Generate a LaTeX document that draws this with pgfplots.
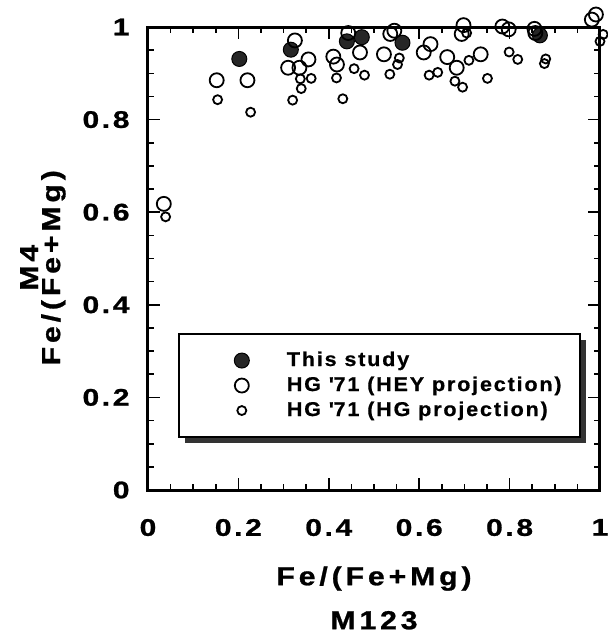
\documentclass[border=0pt]{standalone}
\usepackage{fontspec}
\setmainfont{Liberation Sans}
\newfontfamily\tickfam{Liberation Sans}[FakeStretch=1.25,LetterSpace=11,FakeBold=1]
\newfontfamily\labfam{Liberation Sans}[FakeStretch=1.16,LetterSpace=15,FakeBold=1]
\newfontfamily\legfam{Liberation Sans}[FakeStretch=1.08,LetterSpace=9,FakeBold=0.6]
\usepackage{pgfplots}
\pgfplotsset{compat=1.18}
\usetikzlibrary{shadows}

\newcommand\tickf{\tickfam\bfseries\fontsize{12pt}{14pt}\selectfont}
\newcommand\labf{\labfam\bfseries\fontsize{13pt}{15pt}\selectfont}
\newcommand\legf{\legfam\bfseries\fontsize{10pt}{12pt}\selectfont}

\begin{document}
\begin{tikzpicture}
\begin{axis}[
    scale only axis,
    width=226pt, height=231.5pt,
    xmin=0, xmax=1, ymin=0, ymax=1,
    clip=false,
    axis line style={line width=1.5pt},
    tick align=inside,
    major tick length=6pt, minor tick length=3pt,
    tick style={line width=0.8pt, black},
    xtick={0,0.2,0.4,0.6,0.8,1},
    ytick={0,0.2,0.4,0.6,0.8,1},
    xticklabels={0,0.2,0.4,0.6,0.8,1},
    yticklabels={0,0.2,0.4,0.6,0.8,1},
    minor x tick num=3, minor y tick num=3,
    xticklabel style={font=\tickf, yshift=-11pt},
    yticklabel style={font=\tickf, xshift=-5.7pt},
    xlabel={Fe/(Fe+Mg)\\[7pt]M123},
    ylabel={M4\\[-4pt]Fe/(Fe+Mg)},
    xlabel style={font=\labf, align=center, inner sep=0pt,
        at={(axis description cs:0.5,0)}, anchor=north, yshift=-38pt},
    ylabel style={font=\labf, align=center, inner sep=0pt,
        at={(axis description cs:0,0.48)}, anchor=south, yshift=41pt},
    legend cell align=left,
    legend style={at={(rel axis cs:0.066,0.339)}, anchor=north west,
        draw=black, line width=1pt, fill=white,
        drop shadow={shadow xshift=3pt, shadow yshift=-3pt, fill=black!80, opacity=1},
        inner xsep=7pt, inner ysep=7pt, row sep=0pt,
        font=\legf,
        nodes={text height=8pt, text depth=2.5pt, inner ysep=1pt, inner xsep=2pt}},
    legend image code/.code={\path (-24pt,0pt) (20pt,0pt);
        \draw[#1] plot coordinates {(0pt,0pt)};},
]
% This study
\addplot[only marks, mark=*, mark size=3.75pt, draw=black, fill=black!85, line width=0.5pt] coordinates {
    (0.202,0.931) (0.316,0.951) (0.440,0.969) (0.473,0.978) (0.563,0.966) (0.867,0.982)
};
% HG '71, HEY projection
\addplot[only marks, mark=o, mark size=3.5pt, black, mark options={line width=0.9pt, fill=none}] coordinates {
    (0.035,0.618) (0.152,0.885) (0.220,0.885) (0.325,0.971) (0.310,0.912)
    (0.335,0.912) (0.355,0.930) (0.410,0.936) (0.418,0.919) (0.443,0.987)
    (0.469,0.945) (0.522,0.941) (0.536,0.985) (0.545,0.992) (0.610,0.945)
    (0.625,0.963) (0.662,0.935) (0.683,0.912) (0.736,0.941) (0.698,1.004)
    (0.694,0.985) (0.784,1.001) (0.798,0.995) (0.855,0.996) (0.857,0.987)
    (0.991,1.027) (0.982,1.016)
};
% HG '71, HG projection
\addplot[only marks, mark=o, mark size=2.25pt, black, mark options={line width=0.9pt, fill=none}] coordinates {
    (0.039,0.590) (0.154,0.843) (0.227,0.816) (0.320,0.842) (0.337,0.888)
    (0.361,0.889) (0.339,0.867) (0.417,0.890) (0.431,0.845) (0.456,0.910)
    (0.479,0.896) (0.556,0.933) (0.552,0.919) (0.535,0.898) (0.622,0.896)
    (0.641,0.902) (0.710,0.928) (0.679,0.883) (0.696,0.870) (0.751,0.889)
    (0.705,0.987) (0.799,0.946) (0.818,0.930) (0.880,0.931) (0.877,0.921)
    (1.007,0.984) (1.000,0.969)
};
\legend{This study, HG \textquotesingle 71 (HEY projection), HG \textquotesingle 71 (HG projection)}
\end{axis}
\pgfresetboundingbox
\path[use as bounding box] (-74pt,-71.5pt) rectangle (230pt,245pt);
\end{tikzpicture}
\end{document}
